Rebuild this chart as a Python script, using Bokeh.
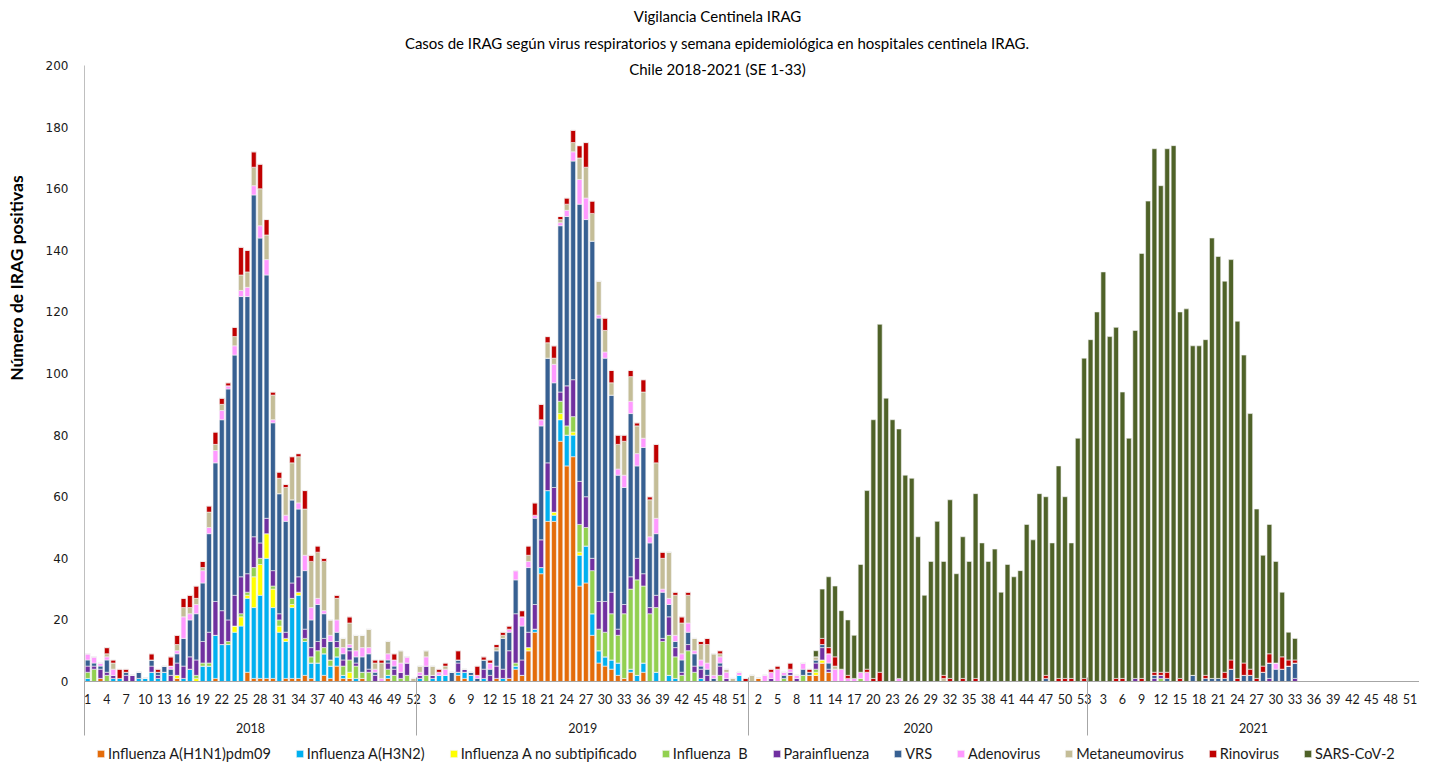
import json
from bokeh.plotting import figure
from bokeh.layouts import column
from bokeh.models import (ColumnDataSource, FixedTicker, LinearAxis, Range1d,
                          Label, Legend, LegendItem, CustomJSTickFormatter)
from bokeh.embed import file_html
from bokeh.resources import INLINE

years = ["2018", "2019", "2020", "2021"]
weeks_in_year = [52, 52, 53, 52]

series_keys = ["h1n1", "h3n2", "anosub", "fluB", "para", "vrs", "adeno", "meta", "rino", "sars"]
series_labels = ["Influenza A(H1N1)pdm09", "Influenza A(H3N2)", "Influenza A no subtipificado",
                 "Influenza  B", "Parainfluenza", "VRS", "Adenovirus", "Metaneumovirus",
                 "Rinovirus", "SARS-CoV-2"]
series_colors = ["#E46C0A", "#00B0F0", "#FFFF00", "#92D050", "#7030A0", "#376092",
                 "#FF99FF", "#C4BD97", "#C00000", "#4F6228"]

title_lines = ["Vigilancia Centinela IRAG",
               "Casos de IRAG según virus respiratorios y semana epidemiológica en hospitales centinela IRAG.",
               "Chile 2018-2021 (SE 1-33)"]
y_title = "Número de IRAG positivas"

# ---------------- 2018 (SE 1-52) ----------------
h1n1_2018 = [0,0,1,0,0,0,0,0,0,0, 0,0,0,0,1,0,0,0,0,0, 1,0,0,0,0,3,1,1,1,1, 0,1,1,1,2,1,0,2,1,5, 1,1,0,1,0,0,0,1,0,0, 0,0]
h3n2_2018 = [1,0,0,0,1,1,0,0,1,1, 3,1,3,0,0,1,4,0,5,5, 14,12,12,16,18,24,23,27,39,23, 16,12,23,27,11,5,6,7,4,3, 1,0,1,0,0,0,0,1,0,0, 0,0]
anosub_2018 = [0,0,0,0,0,0,0,0,0,0, 0,0,0,0,1,0,0,1,0,0, 0,0,0,2,3,1,10,10,8,6, 2,1,1,1,0,0,0,0,0,0, 0,2,0,0,0,0,0,0,0,0, 0,0]
fluB_2018 = [2,4,0,2,0,0,0,0,0,0, 0,0,0,0,0,0,0,1,1,1, 0,0,1,0,1,1,3,2,0,1, 2,0,2,0,1,2,4,2,2,3, 3,4,4,2,3,0,0,2,2,1, 2,0]
para_2018 = [2,1,3,1,1,0,2,2,0,0, 2,1,0,2,4,4,4,5,7,10, 11,11,7,10,12,6,10,5,5,5, 2,2,5,5,3,3,3,3,0,2, 2,3,1,0,1,2,0,2,2,2, 4,0]
vrs_2018 = [2,1,1,4,0,0,1,0,2,0, 2,1,2,2,3,9,12,15,19,32, 45,62,75,78,91,90,111,99,79,48, 39,36,27,22,19,9,12,8,6,3, 2,1,2,5,5,1,0,1,1,0, 0,0]
adeno_2018 = [2,2,1,1,2,0,0,0,0,0, 0,0,0,1,1,7,2,3,4,2, 4,3,1,3,2,3,3,4,5,1, 0,2,0,2,5,4,2,1,2,4, 2,1,2,3,2,1,1,2,2,3, 2,0]
meta_2018 = [0,0,0,1,2,0,0,0,0,0, 0,0,0,0,2,3,2,2,1,5, 2,2,0,3,5,5,6,12,8,8, 5,9,12,15,15,15,15,16,5,7, 3,7,5,4,6,2,5,4,0,4, 0,1]
rino_2018 = [0,0,0,2,1,3,1,0,0,0, 2,1,0,3,3,3,4,4,2,2, 4,2,1,3,9,7,5,8,5,1, 2,1,2,1,6,2,2,1,0,1, 0,2,0,0,0,1,1,0,2,0, 0,0]
sars_2018 = [0,0,0,0,0,0,0,0,0,0, 0,0,0,0,0,0,0,0,0,0, 0,0,0,0,0,0,0,0,0,0, 0,0,0,0,0,0,0,0,0,0, 0,0,0,0,0,0,0,0,0,0, 0,0]

# ---------------- 2019 (SE 1-52) ----------------
h1n1_2019 = [0,0,0,0,0,0,2,1,0,0, 0,0,1,0,1,4,2,10,16,35, 52,52,78,70,73,31,32,15,6,5, 4,2,1,3,0,3,0,0,0,0, 0,0,0,0,0,0,0,0,0,0, 0,0]
h3n2_2019 = [1,0,1,2,2,0,1,2,2,0, 1,0,0,1,0,1,0,0,1,2, 10,2,7,10,7,10,12,7,4,3, 3,4,0,1,2,3,0,3,0,2, 1,0,0,0,1,0,0,0,0,0, 2,0]
anosub_2019 = [0,0,0,0,0,0,0,0,0,0, 0,0,0,0,0,0,0,1,0,0, 0,1,2,0,1,1,0,0,0,0, 0,0,0,0,0,0,0,0,0,0, 0,0,0,0,0,0,0,0,0,0, 0,0]
fluB_2019 = [0,2,0,0,0,0,0,0,0,0, 0,0,0,0,0,1,0,0,0,0, 0,0,4,3,5,9,6,14,7,8, 15,9,21,26,31,25,22,21,13,13, 7,2,10,3,0,0,0,2,0,0, 0,0]
para_2019 = [1,3,1,0,0,0,3,1,0,0, 3,2,4,3,9,16,5,5,8,9, 9,8,3,13,12,14,10,4,9,10, 7,2,3,4,7,4,2,4,1,6, 3,1,2,2,3,2,0,3,1,0, 0,0]
vrs_2019 = [0,0,0,0,0,3,1,0,1,1, 3,2,5,10,6,11,11,21,28,37, 34,34,54,55,71,90,90,103,92,79, 64,50,38,53,30,41,21,20,15,4, 2,4,4,4,1,2,1,1,0,0, 0,0]
adeno_2019 = [1,3,0,1,2,0,0,0,0,1, 0,2,0,0,1,3,3,2,1,2, 0,6,1,2,3,8,7,0,1,2, 0,2,4,4,4,3,2,5,1,2, 2,2,3,1,2,2,1,2,2,0, 1,0]
meta_2019 = [2,2,3,0,1,0,0,0,0,0, 0,0,1,1,0,0,0,2,0,0, 5,2,1,2,3,7,10,9,11,7, 4,8,11,8,9,15,12,18,10,15, 13,10,9,4,5,6,7,1,1,1, 0,0]
rino_2019 = [0,0,0,1,1,0,3,0,0,3, 1,1,1,1,1,0,2,3,4,5, 2,4,1,2,4,4,8,4,0,4, 4,3,2,2,1,4,1,6,2,0, 1,2,1,0,1,2,0,1,0,0, 0,1]
sars_2019 = [0,0,0,0,0,0,0,0,0,0, 0,0,0,0,0,0,0,0,0,0, 0,0,0,0,0,0,0,0,0,0, 0,0,0,0,0,0,0,0,0,0, 0,0,0,0,0,0,0,0,0,0, 0,0]

# ---------------- 2020 (SE 1-53) ----------------
h1n1_2020 = [0,1,0,0,0,0,2,0,0,2, 2,6,3,0,0,0,0,0,0,0, 0,0,0,0,0,0,0,0,0,0, 0,0,0,0,0,0,0,0,0,0, 0,0,0,0,0,0,0,0,0,0, 0,0,0]
h3n2_2020 = [0,0,0,0,0,0,0,0,0,0, 0,0,0,0,0,0,0,0,0,0, 0,0,0,0,0,0,0,0,0,0, 0,0,0,0,0,0,0,0,0,0, 0,0,0,0,0,0,0,0,0,0, 0,0,0]
anosub_2020 = [0,0,0,0,0,0,0,0,0,0, 1,1,0,0,0,0,0,0,0,0, 0,0,0,0,0,0,0,0,0,0, 0,0,0,0,0,0,0,0,0,0, 0,0,0,0,0,0,0,0,0,0, 0,0,0]
fluB_2020 = [0,0,0,0,0,1,0,0,2,0, 1,0,0,0,0,0,0,1,0,0, 0,0,0,0,0,0,0,0,0,0, 0,0,0,0,0,0,0,0,0,0, 0,0,0,0,0,0,0,0,0,0, 0,0,0]
para_2020 = [0,0,0,1,0,0,1,1,0,0, 2,4,1,0,0,0,0,0,0,0, 0,0,0,0,0,0,0,0,0,0, 0,0,0,0,0,0,0,0,0,0, 0,0,0,0,0,0,0,0,0,0, 0,0,0]
vrs_2020 = [0,0,0,0,0,1,0,0,2,1, 1,1,2,0,0,0,0,0,0,0, 0,0,0,0,0,0,0,0,0,0, 0,0,0,0,0,0,0,0,0,0, 0,0,0,0,0,0,1,0,0,0, 0,0,0]
adeno_2020 = [0,0,2,2,4,1,1,1,2,0, 0,0,3,4,4,1,1,2,3,0, 0,0,0,1,0,0,0,0,0,0, 0,0,0,0,0,0,0,0,0,0, 0,0,0,0,0,0,0,0,0,0, 0,0,0]
meta_2020 = [2,0,0,0,0,0,0,0,0,0, 1,0,0,1,0,0,0,0,0,0, 0,0,0,0,0,0,0,0,0,0, 1,0,0,0,0,0,0,0,0,0, 0,0,0,0,0,0,0,0,0,0, 0,0,0]
rino_2020 = [0,0,0,1,1,0,2,0,0,1, 0,2,2,3,0,1,0,0,1,1, 3,0,0,0,0,0,0,0,0,0, 1,1,0,1,0,1,0,0,0,0, 0,0,0,0,0,0,1,0,1,1, 1,0,1]
sars_2020 = [0,0,0,0,0,0,0,0,0,0, 2,16,23,23,19,18,14,35,58,84, 113,92,85,81,67,66,47,28,39,52, 37,58,35,46,39,60,45,39,43,29, 38,34,36,51,46,61,58,45,69,59, 44,79,104]

# ---------------- 2021 (SE 1-33 with data) ----------------
h1n1_2021 = [0,0,0,0,0,0,0,0,0,0, 0,0,0,0,0,0,0,0,0,0, 0,0,0,0,0,0,0,0,0,0, 0,0,0,0,0,0,0,0,0,0, 0,0,0,0,0,0,0,0,0,0, 0,0]
h3n2_2021 = [0,0,0,0,0,0,0,0,0,0, 0,0,0,0,0,0,0,0,0,0, 0,0,0,0,0,0,0,0,0,0, 0,0,0,0,0,0,0,0,0,0, 0,0,0,0,0,0,0,0,0,0, 0,0]
anosub_2021 = [0,0,0,0,0,0,0,0,0,0, 0,0,0,0,0,0,0,0,0,0, 0,0,0,0,0,0,0,0,0,0, 0,0,0,0,0,0,0,0,0,0, 0,0,0,0,0,0,0,0,0,0, 0,0]
fluB_2021 = [0,0,0,0,0,0,0,0,0,0, 0,1,0,0,0,0,0,0,0,0, 0,0,0,0,0,0,0,0,0,0, 0,0,0,0,0,0,0,0,0,0, 0,0,0,0,0,0,0,0,0,0, 0,0]
para_2021 = [0,0,0,0,0,0,0,1,0,0, 1,1,0,0,0,0,0,0,0,0, 0,0,0,0,0,0,0,0,1,0, 0,0,1,0,0,0,0,0,0,0, 0,0,0,0,0,0,0,0,0,0, 0,0]
vrs_2021 = [0,0,0,0,0,0,0,0,0,0, 1,0,1,0,0,0,2,0,1,1, 1,1,4,0,2,2,0,3,5,4, 4,5,5,0,0,0,0,0,0,0, 0,0,0,0,0,0,0,0,0,0, 0,0]
adeno_2021 = [0,0,0,0,0,0,0,0,0,0, 0,0,0,0,0,0,0,0,0,0, 0,0,0,0,0,0,0,0,0,2, 0,0,0,0,0,0,0,0,0,0, 0,0,0,0,0,0,0,0,0,0, 0,0]
meta_2021 = [0,0,0,0,0,0,0,0,0,0, 0,0,0,0,0,0,0,0,0,0, 0,0,0,0,0,0,0,0,0,0, 0,0,0,0,0,0,0,0,0,0, 0,0,0,0,0,0,0,0,0,0, 0,0]
rino_2021 = [0,0,0,0,1,1,0,0,1,0, 1,1,2,0,1,0,0,0,1,0, 0,2,3,1,4,2,1,2,3,0, 4,2,1,0,0,0,0,0,0,0, 0,0,0,0,0,0,0,0,0,0, 0,0]
sars_2021 = [111,120,133,112,114,93,79,113,138,156, 170,158,170,174,119,121,107,109,109,143, 137,127,130,116,100,83,55,36,42,33, 21,9,7,0,0,0,0,0,0,0, 0,0,0,0,0,0,0,0,0,0, 0,0]

series_by_year = {
    "h1n1": [h1n1_2018, h1n1_2019, h1n1_2020, h1n1_2021],
    "h3n2": [h3n2_2018, h3n2_2019, h3n2_2020, h3n2_2021],
    "anosub": [anosub_2018, anosub_2019, anosub_2020, anosub_2021],
    "fluB": [fluB_2018, fluB_2019, fluB_2020, fluB_2021],
    "para": [para_2018, para_2019, para_2020, para_2021],
    "vrs": [vrs_2018, vrs_2019, vrs_2020, vrs_2021],
    "adeno": [adeno_2018, adeno_2019, adeno_2020, adeno_2021],
    "meta": [meta_2018, meta_2019, meta_2020, meta_2021],
    "rino": [rino_2018, rino_2019, rino_2020, rino_2021],
    "sars": [sars_2018, sars_2019, sars_2020, sars_2021],
}

# ---------------- build ----------------
week_numbers = []
for n in weeks_in_year:
    week_numbers += list(range(1, n + 1))
N = len(week_numbers)
xs = list(range(N))

data = {"x": xs}
for k in series_keys:
    full = []
    for yi, arr in enumerate(series_by_year[k]):
        if len(arr) != weeks_in_year[yi]:
            raise ValueError(f"{k} {years[yi]} has {len(arr)} values")
        full += arr
    data[k] = full
src = ColumnDataSource(data)

FONT = "Lato"
TXT = "#1a1a1a"
SEP = "#A6A6A6"
W = 1419
TITLE_H = 52
MAIN_H = 690
LEG_H = 23
Y_TOP = 202.3   # a little head-room above 200 so the third title line is not clipped


def strip(height):
    f = figure(width=W, height=height, x_range=Range1d(0, 1), y_range=Range1d(0, 1),
               output_backend="svg", toolbar_location=None, x_axis_type=None, y_axis_type=None,
               min_border=0, min_border_left=0, min_border_right=0,
               min_border_top=0, min_border_bottom=0)
    f.outline_line_color = None
    f.grid.visible = False
    f.background_fill_color = "white"
    f.border_fill_color = "white"
    return f


# ---- title strip (lines 1 and 2) ----
tf = strip(TITLE_H)
for txt, yy in zip(title_lines[:2], [TITLE_H - 15, TITLE_H - 42]):
    tf.add_layout(Label(x=717 - 84, y=yy, x_units="screen", y_units="screen", text=txt,
                        text_align="center", text_baseline="middle",
                        text_font=FONT, text_font_size="15px", text_color="black"))

# ---- main chart ----
p = figure(width=W, height=MAIN_H, x_range=Range1d(-0.5, N - 0.5), y_range=Range1d(0, Y_TOP),
           output_backend="svg", toolbar_location=None,
           min_border_left=84, min_border_right=0, min_border_top=6, min_border_bottom=61)
p.outline_line_color = None
p.xgrid.visible = False
p.ygrid.visible = False
p.background_fill_color = "white"
p.border_fill_color = "white"

renderers = p.vbar_stack(series_keys, x="x", width=0.76, source=src,
                         fill_color=series_colors, line_color="#F4F4F4", line_width=0.6)

# week axis
xa = p.xaxis[0]
tick_idx = list(range(0, N, 3))
xa.ticker = FixedTicker(ticks=tick_idx)
xa.major_label_overrides = {i: str(week_numbers[i]) for i in tick_idx}
xa.major_tick_line_color = None
xa.minor_tick_line_color = None
xa.major_tick_out = 0
xa.minor_tick_out = 0
xa.axis_line_color = SEP
xa.major_label_text_font = FONT
xa.major_label_text_font_size = "12.5px"
xa.major_label_text_color = TXT
xa.major_label_standoff = 12

# year axis (labels at year centres)
centers, bounds = [], [-0.5]
start = 0
for n in weeks_in_year:
    centers.append(start + (n - 1) / 2)
    start += n
    bounds.append(start - 0.5)
year_axis = LinearAxis(ticker=FixedTicker(ticks=centers),
                       formatter=CustomJSTickFormatter(code="const y = %s; return y[index];" % json.dumps(years)))
year_axis.axis_line_color = None
year_axis.major_tick_line_color = None
year_axis.minor_tick_line_color = None
year_axis.major_tick_out = 0
year_axis.minor_tick_out = 0
year_axis.major_label_standoff = 16
year_axis.major_label_text_font = FONT
year_axis.major_label_text_font_size = "12.5px"
year_axis.major_label_text_color = TXT
p.add_layout(year_axis, "below")

# separator axis: year boundaries drawn as ticks reaching up to the plot
sep_axis = LinearAxis(ticker=FixedTicker(ticks=[], minor_ticks=bounds[:-1]),
                      formatter=CustomJSTickFormatter(code="return '';"))
sep_axis.axis_line_color = None
sep_axis.major_tick_line_color = None
sep_axis.major_tick_out = 0
sep_axis.major_tick_in = 0
sep_axis.minor_tick_line_color = SEP
sep_axis.minor_tick_in = 58
sep_axis.minor_tick_out = 0
sep_axis.major_label_standoff = 0
p.add_layout(sep_axis, "below")

# y axis (line drawn only from 0 to 200)
ya = p.yaxis[0]
ya.ticker = FixedTicker(ticks=list(range(0, 201, 20)))
ya.bounds = (0, 200)
ya.major_tick_line_color = None
ya.minor_tick_line_color = None
ya.major_tick_out = 0
ya.minor_tick_out = 0
ya.axis_line_color = "#BFBFBF"
ya.major_label_text_font = "DejaVu Sans"
ya.major_label_text_font_size = "12px"
ya.major_label_text_color = TXT
ya.major_label_standoff = 16
ya.axis_label = "\u2003" * 14 + y_title
ya.axis_label_text_font = FONT
ya.axis_label_text_font_size = "17.5px"
ya.axis_label_text_font_style = "bold"
ya.axis_label_text_color = "black"
ya.axis_label_standoff = 16

# third title line, just under the top of the value axis
p.add_layout(Label(x=98.6, y=199.0, text=title_lines[2], text_align="center", text_baseline="middle",
                   text_font=FONT, text_font_size="15px", text_color="black"))

# ---- legend strip ----
lf = strip(LEG_H)
legend_renderers = [lf.vbar(x=[-5], top=[0], width=0.5, fill_color=c, line_color="#F4F4F4",
                            line_width=0.6) for c in series_colors]
items = [LegendItem(label=lab, renderers=[r]) for lab, r in zip(series_labels, legend_renderers)]
leg = Legend(items=items, orientation="horizontal", location=(12, 2),
             glyph_width=9, glyph_height=9, label_standoff=3, spacing=24, label_height=20,
             padding=0, margin=0, border_line_color=None, background_fill_alpha=0,
             label_text_font=FONT, label_text_font_size="14.5px", label_text_color=TXT)
lf.add_layout(leg)

layout = column(tf, p, lf, spacing=0)
open("out.html", "w").write(file_html(layout, INLINE))
